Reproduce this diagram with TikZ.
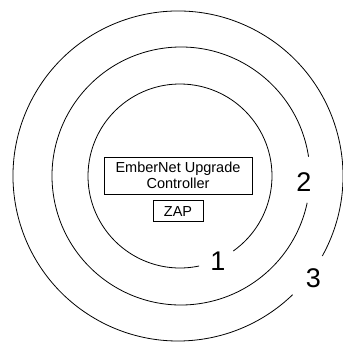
\documentclass[tikz,border=0pt]{standalone}
\usepackage{fontspec}
\setmainfont{Liberation Sans}
\usetikzlibrary{positioning}
\tikzset{
  unitbox/.style={draw, line width=0.8pt, align=center, inner sep=0pt,
    font=\fontsize{14.5}{16}\selectfont},
  ringnum/.style={inner sep=0pt, font=\fontsize{27}{30}\selectfont}
}
\begin{document}
\begin{tikzpicture}[x=1pt, y=1pt, line width=0.8pt]
    \useasboundingbox (0,0) rectangle (343,341);

    \draw[shift={(180,165)}] (-54.6:92) arc[start angle=-54.6, end angle=282, radius=92];
    \draw[shift={(181,165)}] (8.6:129) arc[start angle=8.6, end angle=348, radius=129];
    \draw[shift={(178,165)}] (-29:165) arc[start angle=-29, end angle=314, radius=165];

    \node[unitbox, minimum width=148, minimum height=37] (ctrl) at (178,165.5) {EmberNet Upgrade\\Controller};
    \node[unitbox, minimum width=50, minimum height=21, below=6 of ctrl] (zap) {ZAP};

    \node[ringnum] (one) at (218,80) {1};
    \node[ringnum] (two) at (304,159) {2};
    \node[ringnum] (three) at (313.5,63) {3};
\end{tikzpicture}
\end{document}
